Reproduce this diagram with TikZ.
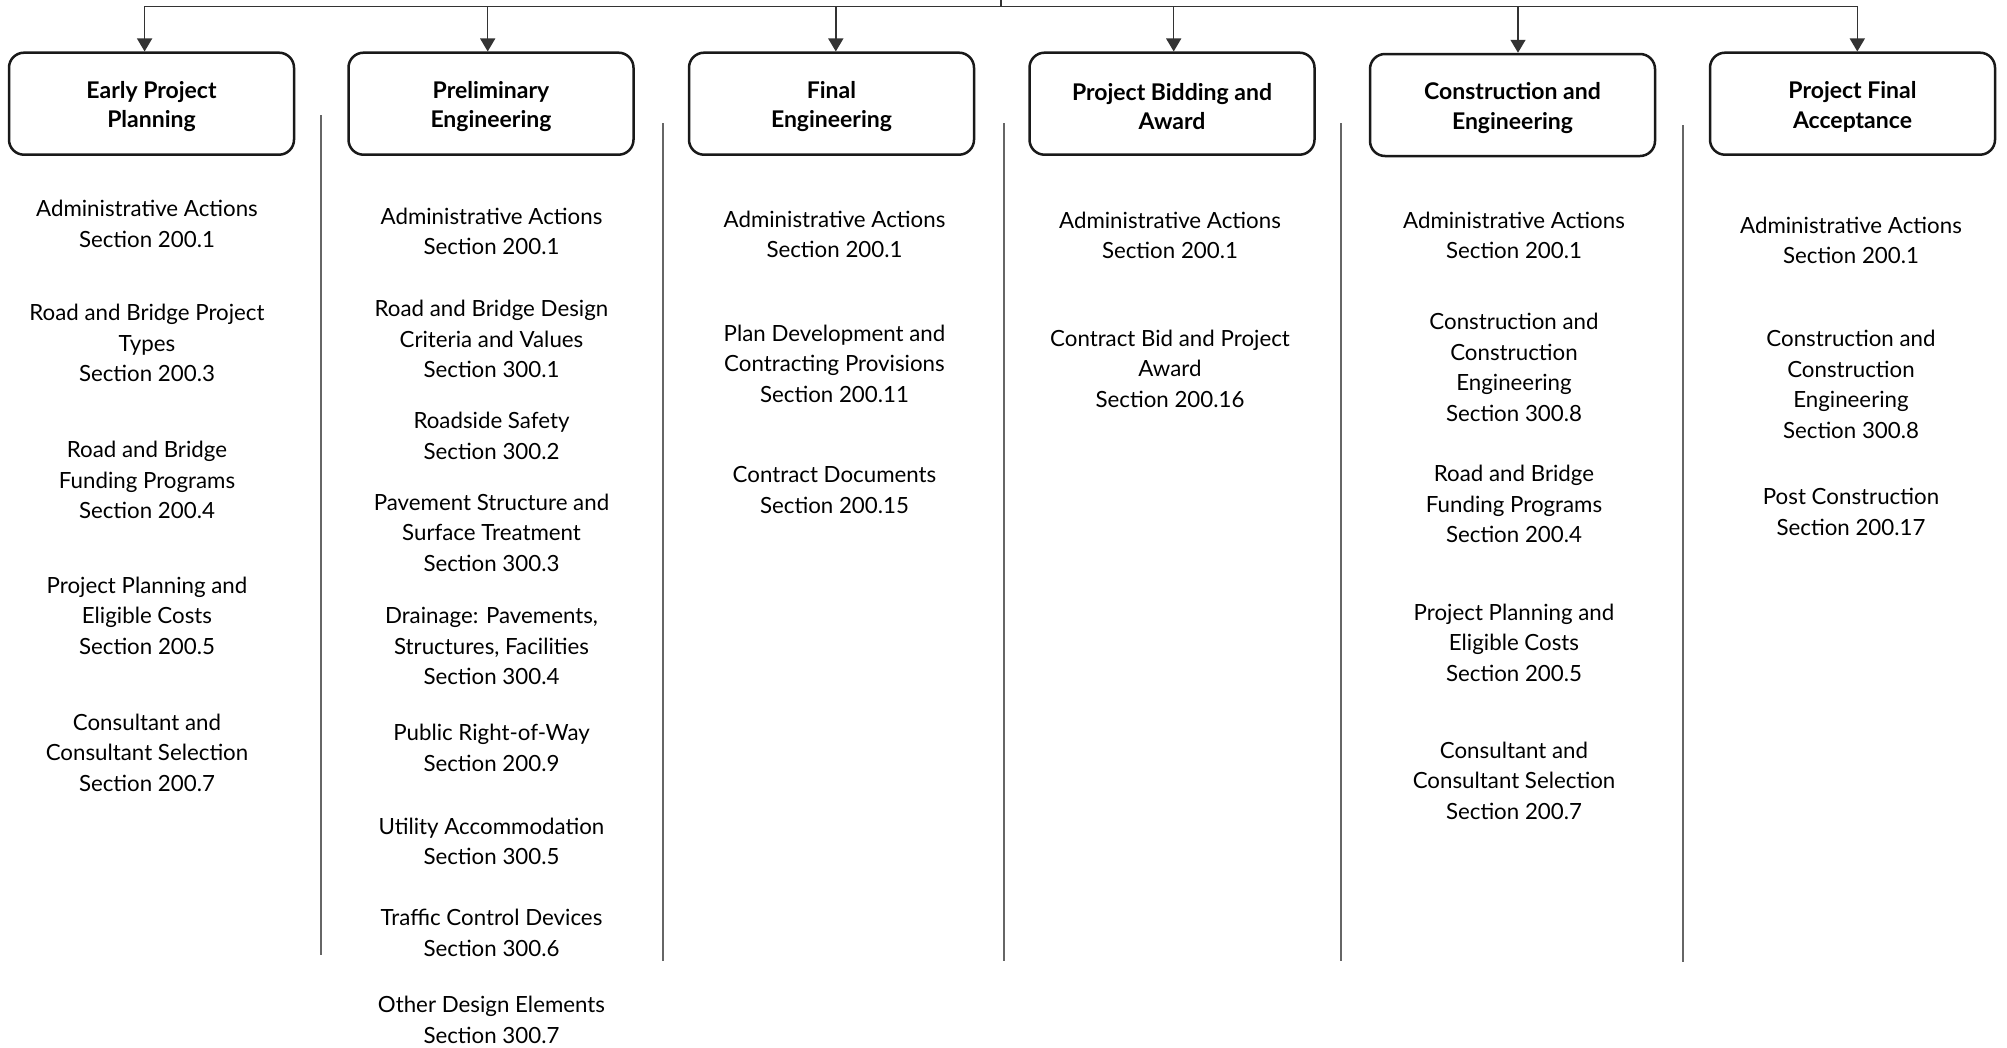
\documentclass[tikz,border=0pt]{standalone}
\usepackage{fontspec}
\setmainfont{Lato}
\usetikzlibrary{arrows.meta}
\begin{document}
\begin{tikzpicture}[x=1pt,y=-1pt,
  phase/.style={draw=black!90, line width=2.5pt, rounded corners=15pt, minimum width=285pt, minimum height=102pt, inner sep=0pt},
  phasetext/.style={align=center, font=\fontsize{23}{29.4}\selectfont\bfseries, inner sep=0pt},
  item/.style={align=center, font=\fontsize{22.3}{30.5}\selectfont, inner sep=0pt},
  link/.style={draw=black!80, line width=1.5pt},
  arr/.style={link, -{Triangle[length=13pt,width=15pt]}},
  divider/.style={draw=black!60, line width=2pt}]
\fill[white] (0,0) rectangle (2007,1047);
\useasboundingbox (0,0) rectangle (2007,1047);

% phase boxes
\node[phase] (b1) at (151.5,103.7) {};
\node[phase] (b2) at (491,103.7) {};
\node[phase] (b3) at (831.5,103.7) {};
\node[phase] (b4) at (1172,103.7) {};
\node[phase] (b5) at (1512.5,105) {};
\node[phase] (b6) at (1852.5,103.7) {};
\node[phasetext] (t1) at ([yshift=-3pt]b1.center) {Early Project\\Planning};
\node[phasetext] (t2) at ([yshift=-3pt]b2.center) {Preliminary\\Engineering};
\node[phasetext] (t3) at ([yshift=-3pt]b3.center) {Final\\Engineering};
\node[phasetext] (t4) at ([yshift=-3pt]b4.center) {Project Bidding and\\Award};
\node[phasetext] (t5) at ([yshift=-3pt]b5.center) {Construction and\\Engineering};
\node[phasetext] (t6) at ([yshift=-3pt]b6.center) {Project Final\\Acceptance};

% tree connectors
\coordinate (root) at (1001,0);
\coordinate (hub) at (1001,6.4);
\coordinate (j1) at (144.6,6.4);
\coordinate (j2) at (487.7,6.4);
\coordinate (j3) at (835.8,6.4);
\coordinate (j4) at (1173.7,6.4);
\coordinate (j5) at (1518,6.4);
\coordinate (j6) at (1857.3,6.4);
\draw[link] (root) -- (hub);
\draw[link] (j1) -- (j6);
\draw[arr] (j1) -- (j1 |- b1.north);
\draw[arr] (j2) -- (j2 |- b2.north);
\draw[arr] (j3) -- (j3 |- b3.north);
\draw[arr] (j4) -- (j4 |- b4.north);
\draw[arr] (j5) -- (j5 |- b5.north);
\draw[arr] (j6) -- (j6 |- b6.north);

% dividers
\draw[divider] (321,115) -- (321,955);
\draw[divider] (663,123) -- (663,961);
\draw[divider] (1003.5,123) -- (1003.5,961);
\draw[divider] (1341.4,123) -- (1341.4,961);
\draw[divider] (1683,125) -- (1683,962);

% column 1
\node[item] (c1a) at (147,224) {Administrative Actions\\Section 200.1};
\node[item] (c1b) at (147,343) {Road and Bridge Project\\Types\\Section 200.3};
\node[item] (c1c) at (147,480) {Road and Bridge\\Funding Programs\\Section 200.4};
\node[item] (c1d) at (147,615.5) {Project Planning and\\Eligible Costs\\Section 200.5};
\node[item] (c1e) at (147,752.5) {Consultant and\\Consultant Selection\\Section 200.7};

% column 2
\node[item] (c2a) at (491.5,231.5) {Administrative Actions\\Section 200.1};
\node[item] (c2b) at (491.5,339) {Road and Bridge Design\\Criteria and Values\\Section 300.1};
\node[item] (c2c) at (491.5,435.8) {Roadside Safety\\Section 300.2};
\node[item] (c2d) at (491.5,532.4) {Pavement Structure and\\Surface Treatment\\Section 300.3};
\node[item] (c2e) at (491.5,646.3) {Drainage: Pavements,\\Structures, Facilities\\Section 300.4};
\node[item] (c2f) at (491.5,748) {Public Right-of-Way\\Section 200.9};
\node[item] (c2g) at (491.5,841.5) {Utility Accommodation\\Section 300.5};
\node[item] (c2h) at (491.5,933) {Traffic Control Devices\\Section 300.6};
\node[item] (c2i) at (491.5,1020) {Other Design Elements\\Section 300.7};

% column 3
\node[item] (c3a) at (834.5,234.2) {Administrative Actions\\Section 200.1};
\node[item] (c3b) at (834.5,363.4) {Plan Development and\\Contracting Provisions\\Section 200.11};
\node[item] (c3c) at (834.5,490.2) {Contract Documents\\Section 200.15};

% column 4
\node[item] (c4a) at (1170,235.4) {Administrative Actions\\Section 200.1};
\node[item] (c4b) at (1170,368.6) {Contract Bid and Project\\Award\\Section 200.16};

% column 5
\node[item] (c5a) at (1514,235.4) {Administrative Actions\\Section 200.1};
\node[item] (c5b) at (1514,367.2) {Construction and\\Construction\\Engineering\\Section 300.8};
\node[item] (c5c) at (1514,504.2) {Road and Bridge\\Funding Programs\\Section 200.4};
\node[item] (c5d) at (1514,642.5) {Project Planning and\\Eligible Costs\\Section 200.5};
\node[item] (c5e) at (1514,780.7) {Consultant and\\Consultant Selection\\Section 200.7};

% column 6
\node[item] (c6a) at (1851,240.6) {Administrative Actions\\Section 200.1};
\node[item] (c6b) at (1851,384.6) {Construction and\\Construction\\Engineering\\Section 300.8};
\node[item] (c6c) at (1851,511.9) {Post Construction\\Section 200.17};
\end{tikzpicture}
\end{document}
